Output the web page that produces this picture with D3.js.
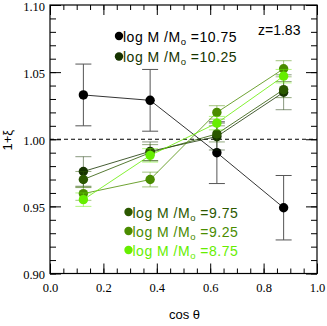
<!DOCTYPE html>
<html>
<head>
<meta charset="utf-8">
<script src="https://cdn.jsdelivr.net/npm/d3@7"></script>
<style>
  body { margin: 0; background: #fff; }
  svg { display: block; }
</style>
</head>
<body>
<div class="canva"></div>
<script>
// bins in cos theta
const cosBins = [0.125, 0.375, 0.625, 0.875];

// 1+xi for each stellar mass bin, with errors
const m1075 = [1.033, 1.029, 0.990, 0.949];
const e1075 = [0.023, 0.023, 0.023, 0.024];
const m1025 = [0.976, 0.991, 1.002, 1.035];
const e1025 = [0.011, 0.007, 0.010, 0.013];
const m975 = [0.970, 0.990, 1.004, 1.037];
const e975 = [0.006, 0.006, 0.006, 0.006];
const m925 = [0.9595, 0.970, 1.020, 1.0525];
const e925 = [0.005, 0.0055, 0.005, 0.006];
const m875 = [0.955, 0.988, 1.012, 1.047];
const e875 = [0.005, 0.005, 0.005, 0.005];

const massLabels = ['10.75', '10.25', '9.75', '9.25', '8.75'];
const colors = ['#000000', '#163300', '#2b5800', '#4a8c00', '#66ee00'];

const xTicks = [0, 0.2, 0.4, 0.6, 0.8, 1.0];
const yTicks = [0.90, 0.95, 1.00, 1.05, 1.10];

const series = [
  { label: massLabels[0], vals: m1075, errs: e1075, color: colors[0] },
  { label: massLabels[1], vals: m1025, errs: e1025, color: colors[1] },
  { label: massLabels[2], vals: m975, errs: e975, color: colors[2] },
  { label: massLabels[3], vals: m925, errs: e925, color: colors[3] },
  { label: massLabels[4], vals: m875, errs: e875, color: colors[4] }
];

const W = 327, H = 326;
const margin = { top: 5, right: 10, bottom: 52.5, left: 50 };

const svg = d3.select('.canva').append('svg')
  .attr('width', W)
  .attr('height', H);

const x = d3.scaleLinear().domain([0, 1]).range([margin.left, W - margin.right]);
const y = d3.scaleLinear().domain([0.9, 1.1]).range([H - margin.bottom, margin.top]);

const serif = '"Liberation Serif", "DejaVu Serif", serif';
const sans = '"Liberation Sans", Arial, sans-serif';

// inward ticks on all four sides
const minorX = d3.range(0, 1.0001, 0.05);
const minorY = d3.range(0.9, 1.1001, 0.01);

function tickAxis(axis, ticks, size, pos, labels) {
  const g = svg.append('g').attr('transform', pos).call(axis.tickValues(ticks).tickSize(size));
  g.select('.domain').remove();
  g.selectAll('line').attr('stroke', '#000').attr('stroke-width', 1);
  if (!labels) g.selectAll('text').remove();
  return g;
}

const bottomY = H - margin.bottom, topY = margin.top;
const leftX = margin.left, rightX = W - margin.right;

tickAxis(d3.axisBottom(x), minorX, -5, `translate(0,${bottomY})`, false);
tickAxis(d3.axisTop(x), minorX, -5, `translate(0,${topY})`, false);
tickAxis(d3.axisLeft(y), minorY, -6, `translate(${leftX},0)`, false);
tickAxis(d3.axisRight(y), minorY, -6, `translate(${rightX},0)`, false);

const xb = tickAxis(d3.axisBottom(x).tickFormat(d3.format('.1f')).tickPadding(10), xTicks, -10, `translate(0,${bottomY})`, true);
xb.selectAll('text').attr('font-family', serif).attr('font-size', 12.5).attr('fill', '#000');
tickAxis(d3.axisTop(x), xTicks, -10, `translate(0,${topY})`, false);
const yl = tickAxis(d3.axisLeft(y).tickFormat(d3.format('.2f')).tickPadding(5), yTicks, -11, `translate(${leftX},0)`, true);
yl.selectAll('text').attr('font-family', serif).attr('font-size', 12.5).attr('fill', '#000')
  .attr('transform', 'translate(0,1)');
tickAxis(d3.axisRight(y), yTicks, -11, `translate(${rightX},0)`, false);

// frame
svg.append('rect')
  .attr('x', leftX).attr('y', topY)
  .attr('width', rightX - leftX).attr('height', bottomY - topY)
  .attr('fill', 'none').attr('stroke', '#000').attr('stroke-width', 1.2);

// dashed line at 1
svg.append('line')
  .attr('x1', leftX).attr('x2', rightX)
  .attr('y1', y(1)).attr('y2', y(1))
  .attr('stroke', '#000').attr('stroke-width', 1).attr('stroke-dasharray', '4,3');

const line = d3.line().x(d => x(d[0])).y(d => y(d[1]));

series.forEach(s => {
  const pts = cosBins.map((c, i) => [c, s.vals[i], s.errs[i]]);
  const g = svg.append('g');
  const eb = g.selectAll('g.err').data(pts).enter().append('g')
    .attr('stroke', s.color === '#000000' ? '#555' : s.color)
    .attr('stroke-opacity', s.color === '#000000' ? 1 : 0.5)
    .attr('stroke-width', 1);
  eb.append('line')
    .attr('x1', d => x(d[0])).attr('x2', d => x(d[0]))
    .attr('y1', d => y(d[1] - d[2])).attr('y2', d => y(d[1] + d[2]));
  eb.append('line')
    .attr('x1', d => x(d[0]) - 8).attr('x2', d => x(d[0]) + 8)
    .attr('y1', d => y(d[1] + d[2])).attr('y2', d => y(d[1] + d[2]));
  eb.append('line')
    .attr('x1', d => x(d[0]) - 8).attr('x2', d => x(d[0]) + 8)
    .attr('y1', d => y(d[1] - d[2])).attr('y2', d => y(d[1] - d[2]));

  g.append('path')
    .attr('d', line(pts))
    .attr('fill', 'none')
    .attr('stroke', s.color)
    .attr('stroke-width', 0.8);

  g.selectAll('circle').data(pts).enter().append('circle')
    .attr('cx', d => x(d[0])).attr('cy', d => y(d[1]))
    .attr('r', 4.7)
    .attr('fill', s.color);
});

// legends
const legendPos = [
  [119, 36], [119, 56.5],
  [128.5, 212], [128.5, 231], [128.5, 250]
];
series.forEach((s, i) => {
  const [lx, ly] = legendPos[i];
  svg.append('circle').attr('cx', lx).attr('cy', ly).attr('r', 4.2).attr('fill', s.color);
  const t = svg.append('text')
    .attr('x', lx + 4).attr('y', ly + 5.5)
    .attr('font-family', sans).attr('font-size', 14)
    .attr('letter-spacing', 0.5)
    .attr('fill', s.color);
  t.append('tspan').text('log M /M');
  t.append('tspan').attr('font-size', 9.5).attr('dy', 3).text('o');
  t.append('tspan').attr('dy', -3).text(' =' + s.label);
});

svg.append('text')
  .attr('x', 258).attr('y', 34.5)
  .attr('font-family', sans).attr('font-size', 14)
  .attr('fill', '#000')
  .text('z=1.83');

// axis titles
svg.append('text')
  .attr('x', (leftX + rightX) / 2 + 1).attr('y', 319)
  .attr('text-anchor', 'middle')
  .attr('font-family', sans).attr('font-size', 13)
  .text('cos θ');

svg.append('text')
  .attr('transform', `translate(12,${y(1) + 1}) rotate(-90)`)
  .attr('text-anchor', 'middle')
  .attr('font-family', sans).attr('font-size', 13)
  .text('1+ξ');
</script>
</body>
</html>
